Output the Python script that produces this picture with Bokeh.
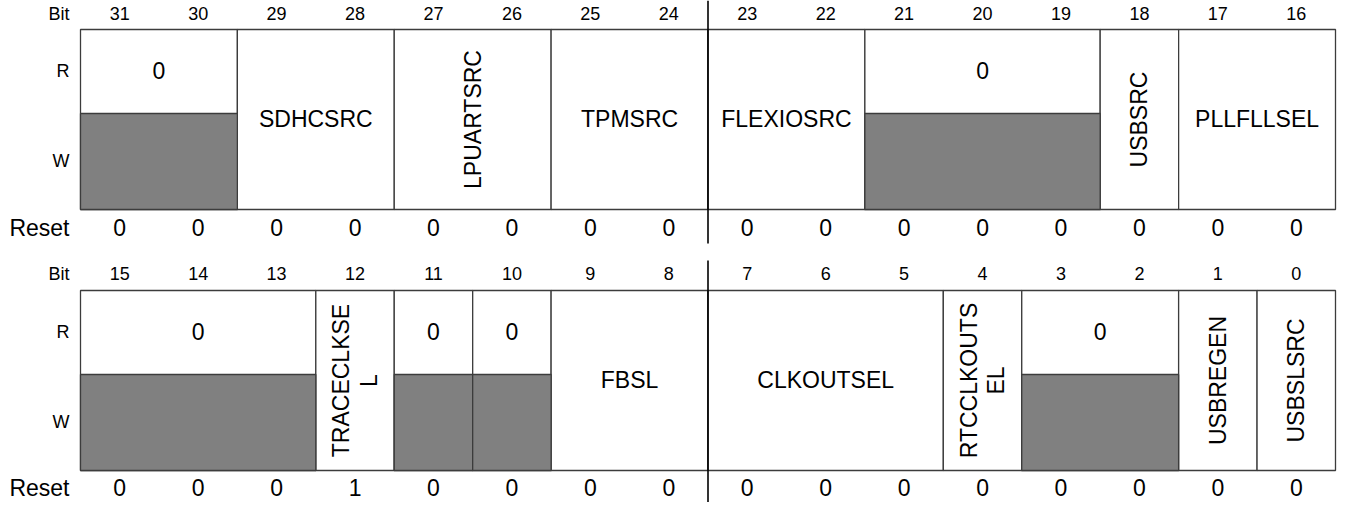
import math
from bokeh.plotting import figure
from bokeh.models import Range1d
from bokeh.core.properties import value
from bokeh.embed import file_html
from bokeh.resources import INLINE

# ---------------- data ----------------
bits_top = list(range(31, 15, -1))
bits_bottom = list(range(15, -1, -1))
reset_top = [0, 0, 0, 0, 0, 0, 0, 0, 0, 0, 0, 0, 0, 0, 0, 0]
reset_bottom = [0, 0, 0, 1, 0, 0, 0, 0, 0, 0, 0, 0, 0, 0, 0, 0]

names_top = ["0", "SDHCSRC", "LPUARTSRC", "TPMSRC", "FLEXIOSRC", "0", "USBSRC", "PLLFLLSEL"]
msb_top = [31, 29, 27, 25, 23, 21, 18, 17]
lsb_top = [30, 28, 26, 24, 22, 19, 18, 16]
kind_top = ["reserved", "h", "v", "h", "h", "reserved", "v", "h"]

names_bottom = ["0", "TRACECLKSE\nL", "0", "0", "FBSL", "CLKOUTSEL", "RTCCLKOUTS\nEL", "0", "USBREGEN", "USBSLSRC"]
msb_bottom = [15, 12, 11, 10, 9, 7, 4, 3, 1, 0]
lsb_bottom = [13, 12, 11, 10, 8, 5, 4, 2, 1, 0]
kind_bottom = ["reserved", "v", "reserved", "reserved", "h", "h", "v", "reserved", "v", "v"]

row_labels = ["Bit", "R", "W", "Reset"]

# ---------------- layout ----------------
W, H = 1337, 502
X0 = 80.0
BW = (1335.0 - X0) / 16
FONT = value("Liberation Sans")
LINE = "#3c3c3c"
GRAY = "#808080"
TOFF = -1  # small vertical nudge for text

p = figure(width=W, height=H, output_backend="svg", toolbar_location=None,
           x_range=Range1d(-X0 / BW, (W - X0) / BW), y_range=Range1d(H, 0),
           min_border=0, x_axis_location=None, y_axis_location=None)
p.grid.visible = False
p.outline_line_color = None
p.background_fill_color = "white"
p.border_fill_color = "white"

label_x = -11.0 / BW


def txt(x, y, t, size, align="center", **kw):
    p.text(x=x, y=[v + TOFF for v in y], text=t, text_font=FONT, text_font_size=size,
           text_align=align, text_baseline="middle", text_color="black", **kw)


def draw_row(top_bit, bits, resets, names, msbs, lsbs, kinds, y_bit, y_top, y_mid, y_bot, y_reset, div_y0, div_y1):
    L = [top_bit - m for m in msbs]
    R = [top_bit - l + 1 for l in lsbs]
    p.quad(left=L, right=R, top=[y_top] * len(L), bottom=[y_bot] * len(L),
           fill_color="white", line_color=LINE, line_width=1.3)
    rl = [l for l, k in zip(L, kinds) if k == "reserved"]
    rr = [r for r, k in zip(R, kinds) if k == "reserved"]
    p.quad(left=rl, right=rr, top=[y_mid] * len(rl), bottom=[y_bot] * len(rl),
           fill_color=GRAY, line_color=LINE, line_width=1.3)
    rn = [n for n, k in zip(names, kinds) if k == "reserved"]
    txt([(a + b) / 2 for a, b in zip(rl, rr)], [(y_top + y_mid) / 2] * len(rl), rn, "23px")
    hx = [(a + b) / 2 for a, b, k in zip(L, R, kinds) if k == "h"]
    hn = [n for n, k in zip(names, kinds) if k == "h"]
    txt(hx, [(y_top + y_bot) / 2] * len(hx), hn, "23px")
    vx = [(a + b) / 2 for a, b, k in zip(L, R, kinds) if k == "v"]
    vn = [n for n, k in zip(names, kinds) if k == "v"]
    p.text(x=vx, y=[(y_top + y_bot) / 2] * len(vx), text=vn, angle=math.pi / 2,
           text_font=FONT, text_font_size="23px", text_align="center", text_baseline="middle",
           text_color="black", text_line_height=1.05)
    cols = [top_bit - b + 0.5 for b in bits]
    txt(cols, [y_bit] * len(bits), [str(b) for b in bits], "18px")
    txt(cols, [y_reset] * len(bits), [str(v) for v in resets], "23px")
    txt([label_x] * 3, [y_bit, (y_top + y_mid) / 2, (y_mid + y_bot) / 2], row_labels[:3], "18px", align="right")
    txt([label_x], [y_reset], [row_labels[3]], "23px", align="right")
    p.segment(x0=[8], y0=[div_y0], x1=[8], y1=[div_y1], line_color="black", line_width=1.6)


draw_row(31, bits_top, reset_top, names_top, msb_top, lsb_top, kind_top,
         14, 29, 113, 209, 228, 0, 243)
draw_row(15, bits_bottom, reset_bottom, names_bottom, msb_bottom, lsb_bottom, kind_bottom,
         274, 290, 374, 470, 488, 260, 502)

open("out.html", "w").write(file_html(p, INLINE))
